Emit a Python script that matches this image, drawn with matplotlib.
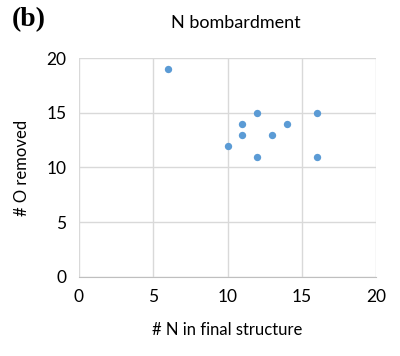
import matplotlib
matplotlib.use('Agg')
from matplotlib import pyplot as plt

# data
n_final = [6, 10, 11, 11, 12, 12, 13, 14, 16, 16]
o_removed = [19, 12, 14, 13, 15, 11, 13, 14, 15, 11]
ticks = [0, 5, 10, 15, 20]

plt.rcParams['font.family'] = ['Lato', 'DejaVu Sans']

fig = plt.figure(figsize=(4.0, 3.56), dpi=100)
ax = fig.add_axes([0.1975, 0.222, 0.7425, 0.615])

ax.scatter(n_final, o_removed, s=28, color='#5B9BD5', zorder=3, linewidths=0)

ax.set_xlim(0, 20)
ax.set_ylim(0, 20)
ax.set_xticks(ticks)
ax.set_yticks(ticks)
ax.grid(True, color='#D9D9D9', linewidth=1.0)
ax.set_axisbelow(True)
for s in ['top', 'right', 'left']:
    ax.spines[s].set_visible(False)
ax.spines['bottom'].set_color('#BFBFBF')
ax.tick_params(length=0, labelsize=12.5, colors='black', pad=9)

ax.set_xlabel('# N in final structure', fontsize=12, labelpad=12)
ax.set_ylabel('# O removed', fontsize=12, labelpad=12)

fig.text(0.59, 0.935, 'N bombardment', fontsize=13, ha='center', va='center')
fig.text(0.03, 0.945, '(b)', fontsize=20, fontweight='bold',
         family='Liberation Serif', ha='left', va='center')

plt.savefig('out.png', dpi=100)
